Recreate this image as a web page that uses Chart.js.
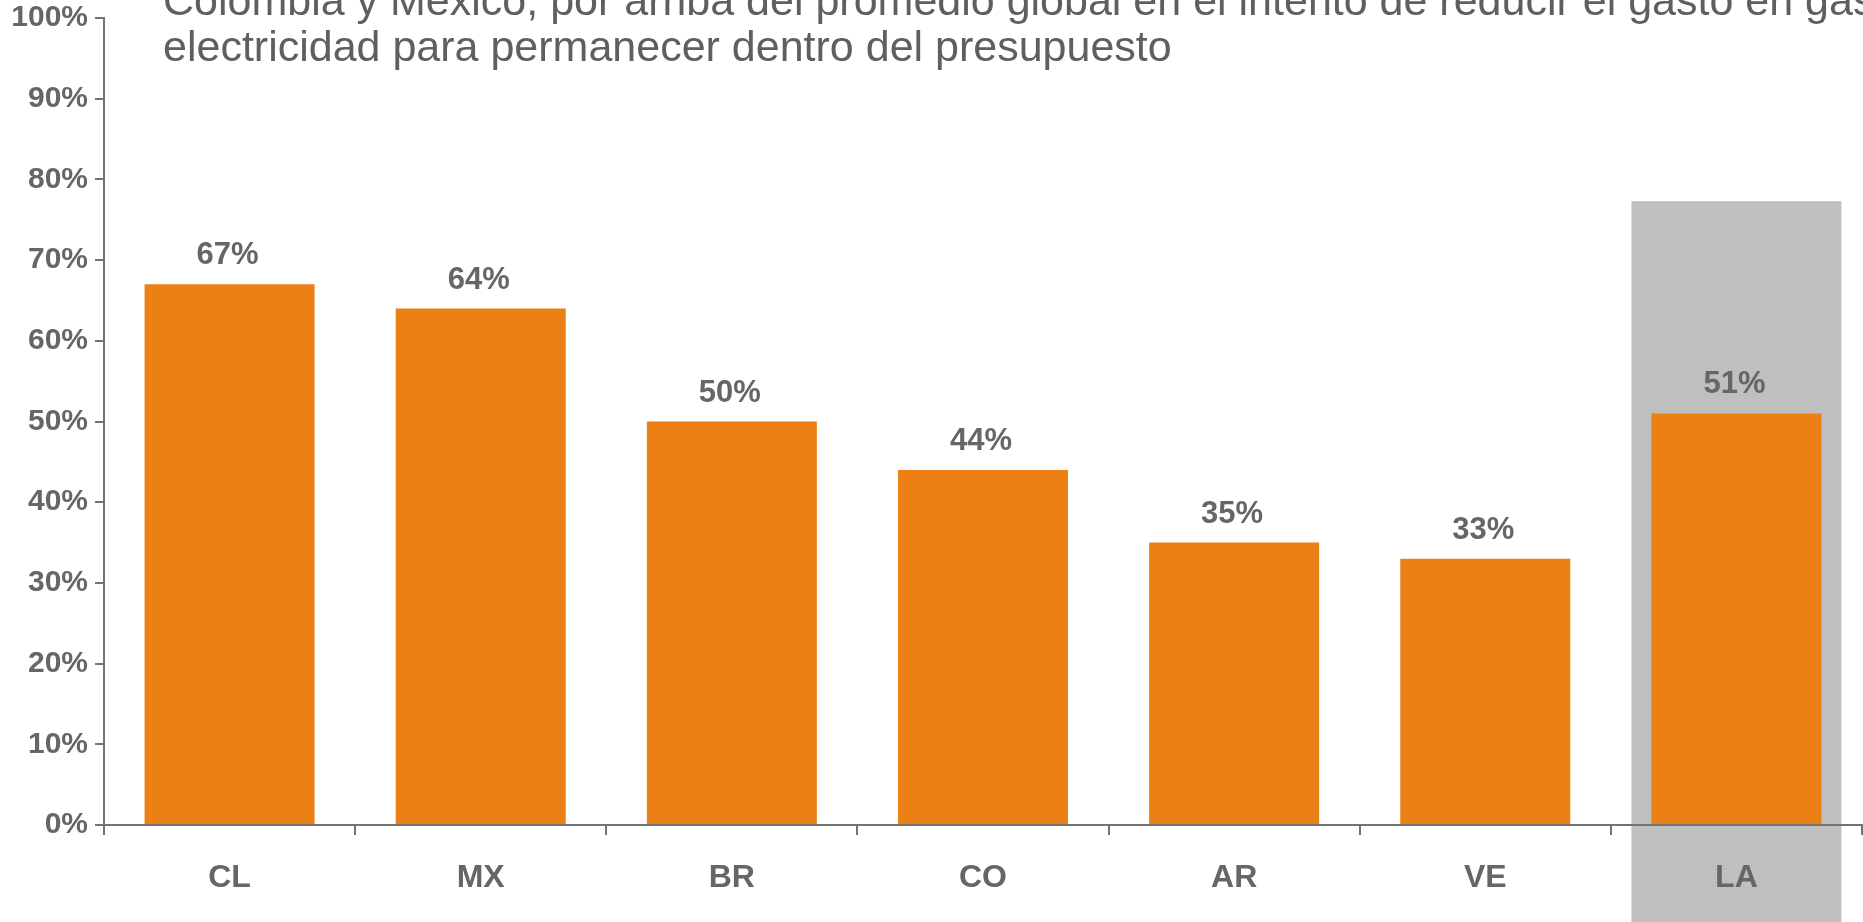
<!DOCTYPE html>
<html lang="es">
<head>
<meta charset="utf-8">
<title>Reducir el gasto en gas y electricidad</title>
<script src="https://cdn.jsdelivr.net/npm/chart.js@4.4.1/dist/chart.umd.min.js"></script>
<style>
    html, body { margin: 0; padding: 0; background: #ffffff; overflow: hidden; }
    #wrap { position: relative; width: 1863px; height: 922px; overflow: hidden; }
    #title {
        position: absolute;
        left: 163px;
        top: -23px;
        font-family: "Liberation Sans", Arial, sans-serif;
        font-size: 43px;
        line-height: 46px;
        color: #5f5f5f;
        white-space: nowrap;
        pointer-events: none;
    }
</style>
</head>
<body>
<div id="wrap">
    <canvas id="surveyChart"></canvas>
    <div id="title">Colombia y México, por arriba del promedio global en el intento de reducir el gasto en gas y<br>electricidad para permanecer dentro del presupuesto</div>
</div>
<script>
// Countries and share of people trying to cut gas/electricity spending
const countries = ["CL", "MX", "BR", "CO", "AR", "VE", "LA"];
const shares = [67, 64, 50, 44, 35, 33, 51];
const yTicks = [0, 10, 20, 30, 40, 50, 60, 70, 80, 90, 100];

// Latin America average is shown on a grey band
const highlightCountry = "LA";
const highlightTop = 77.3;

const textGrey = "#666666";
const axisGrey = "#737373";
const barOrange = "#EB8015";
const bandGrey = "#BFBFBF";
const fontFamily = "'Liberation Sans', Arial, sans-serif";

document.addEventListener("DOMContentLoaded", function () {
    const ctx = document.getElementById("surveyChart").getContext("2d");

    // Grey band behind the LA column, drawn before the axes
    const highlightBand = {
        id: "highlightBand",
        beforeDraw(chart) {
            const xScale = chart.scales.x;
            const yScale = chart.scales.y;
            const index = countries.indexOf(highlightCountry);
            if (index < 0) return;
            const step = xScale.getPixelForValue(1) - xScale.getPixelForValue(0);
            const center = xScale.getPixelForValue(index);
            const half = step * 0.418;
            const top = yScale.getPixelForValue(highlightTop);
            const c = chart.ctx;
            c.save();
            c.fillStyle = bandGrey;
            c.fillRect(center - half, top, half * 2, chart.height - top);
            c.restore();
        }
    };

    // Percent labels above each bar
    const valueLabels = {
        id: "valueLabels",
        afterDatasetsDraw(chart) {
            const c = chart.ctx;
            const meta = chart.getDatasetMeta(0);
            c.save();
            c.font = "bold 31px " + fontFamily;
            c.fillStyle = textGrey;
            c.textAlign = "center";
            c.textBaseline = "alphabetic";
            meta.data.forEach(function (bar, i) {
                c.fillText(shares[i] + "%", bar.x - 2, bar.y - 20);
            });
            c.restore();
        }
    };

    new Chart(ctx, {
        type: "bar",
        data: {
            labels: countries,
            datasets: [
                {
                    data: shares,
                    backgroundColor: barOrange,
                    borderWidth: 0,
                    categoryPercentage: 1,
                    barPercentage: 0.677,
                },
            ],
        },
        options: {
            responsive: true,
            maintainAspectRatio: false,
            animation: false,
            layout: {
                padding: { top: 18, right: 1, bottom: 0, left: 0 },
            },
            plugins: {
                legend: { display: false },
                tooltip: { enabled: false },
            },
            scales: {
                x: {
                    offset: true,
                    grid: {
                        offset: true,
                        drawOnChartArea: false,
                        drawTicks: true,
                        tickLength: 10,
                        color: axisGrey,
                        lineWidth: 2,
                    },
                    border: { display: true, color: axisGrey, width: 2 },
                    ticks: {
                        color: textGrey,
                        font: { family: fontFamily, size: 32, weight: "bold" },
                        padding: 24,
                        maxRotation: 0,
                    },
                    afterFit(scale) {
                        scale.height = 97;
                        scale.paddingLeft = 0;
                        scale.paddingRight = 0;
                    },
                },
                y: {
                    min: 0,
                    max: 100,
                    afterBuildTicks(scale) {
                        scale.ticks = yTicks.map((v) => ({ value: v }));
                    },
                    grid: {
                        drawOnChartArea: false,
                        drawTicks: true,
                        tickLength: 9,
                        color: axisGrey,
                        lineWidth: 2,
                    },
                    border: { display: true, color: axisGrey, width: 2 },
                    ticks: {
                        color: textGrey,
                        font: { family: fontFamily, size: 30, weight: "bold" },
                        padding: 7,
                        callback: (value) => value + "%",
                    },
                    afterFit(scale) {
                        scale.width = 104;
                        scale.paddingTop = 0;
                        scale.paddingBottom = 0;
                    },
                },
            },
        },
        plugins: [highlightBand, valueLabels],
    });
});
</script>
</body>
</html>
